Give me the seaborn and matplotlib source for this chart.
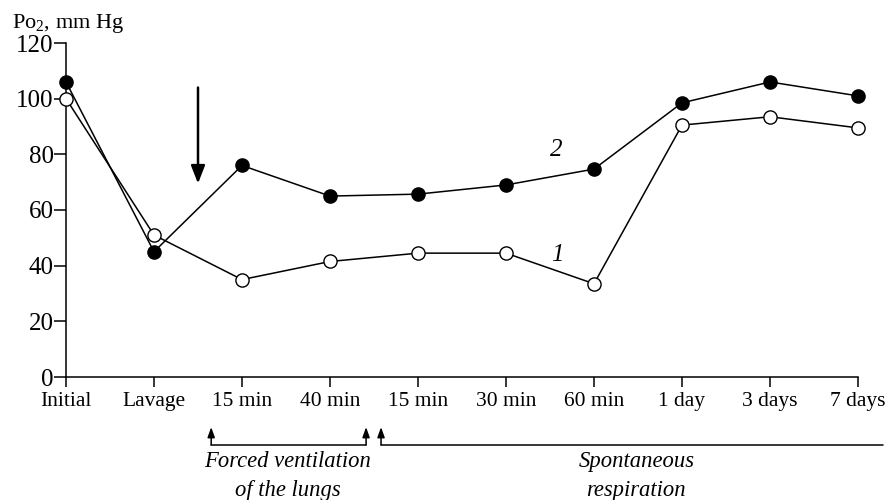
import matplotlib
matplotlib.use("Agg")
import matplotlib.pyplot as plt
import seaborn as sns
import pandas as pd

categories = ["Initial", "Lavage", "15 min", "40 min", "15 min", "30 min",
              "60 min", "1 day", "3 days", "7 days"]
series1 = [100, 51, 35, 41.5, 44.5, 44.5, 33.5, 90.5, 93.5, 89.5]   # open circles
series2 = [106, 45, 76, 65, 65.7, 69, 74.7, 98.5, 106, 101]        # filled circles
yticks = [0, 20, 40, 60, 80, 100, 120]

sns.set_theme(style="ticks")
plt.rcParams["font.family"] = ["Liberation Serif", "DejaVu Serif"]
plt.rcParams["mathtext.fontset"] = "custom"
plt.rcParams["mathtext.rm"] = "Liberation Serif"
plt.rcParams["mathtext.it"] = "Liberation Serif:italic"
plt.rcParams["text.color"] = "black"
plt.rcParams["xtick.color"] = "black"
plt.rcParams["ytick.color"] = "black"
plt.rcParams["xtick.labelcolor"] = "black"
plt.rcParams["ytick.labelcolor"] = "black"

fig = plt.figure(figsize=(8.85, 5), dpi=100)
ax = fig.add_axes([66/885, 1-377/500, (858-66)/885, (377-43)/500])

idx = list(range(len(categories)))
df = pd.DataFrame({"x": idx * 2,
                   "y": series2 + series1,
                   "s": ["2"] * len(idx) + ["1"] * len(idx)})

sns.lineplot(data=df[df.s == "2"], x="x", y="y", ax=ax, color="black", lw=1.1,
             marker="o", markersize=9.5, markerfacecolor="black",
             markeredgecolor="black", markeredgewidth=1.0, legend=False, zorder=3)
sns.lineplot(data=df[df.s == "1"], x="x", y="y", ax=ax, color="black", lw=1.1,
             marker="o", markersize=9.5, markerfacecolor="white",
             markeredgecolor="black", markeredgewidth=1.0, legend=False, zorder=4)
for ln in ax.lines:
    ln.set_clip_on(False)

ax.set_xlim(0, 9)
ax.set_ylim(0, 120)
ax.set_xticks(idx)
ax.set_xticklabels(categories, fontsize=15.5, color="black")
ax.set_yticks(yticks)
ax.set_yticklabels([str(t) for t in yticks], fontsize=18, color="black")
ax.set_xlabel("")
ax.set_ylabel("")
for s in ["top", "right"]:
    ax.spines[s].set_visible(False)
for s in ["left", "bottom"]:
    ax.spines[s].set_linewidth(1.1)
    ax.spines[s].set_color("black")
ax.tick_params(axis="both", direction="out", length=7, width=1.1, color="black",
               labelcolor="black")
ax.tick_params(axis="y", length=9, pad=0)
ax.tick_params(axis="x", pad=4)

# y-axis title
fig.text(12/885, 1-28/500, r"Po$_2$, mm Hg", fontsize=16, ha="left",
         va="baseline", color="black")

# curve labels
ax.text(5.57, 81.5, "2", fontsize=18, style="italic", ha="center", va="center",
        color="black")
ax.text(5.58, 43.8, "1", fontsize=18, style="italic", ha="center", va="center",
        color="black")

# big downward arrow
ax.annotate("", xy=(1.5, 69.5), xytext=(1.5, 104),
            arrowprops=dict(arrowstyle="-|>,head_length=0.9,head_width=0.35",
                            lw=1.8, color="black", shrinkA=0, shrinkB=0))

# brackets below the axis
yb = -24.4
yt = -18.0
ap = dict(arrowstyle="-|>,head_length=0.5,head_width=0.18", lw=1.1,
          color="black", shrinkA=0, shrinkB=0)
for xa in (1.65, 3.41, 3.58):
    ax.annotate("", xy=(xa, yt), xytext=(xa, yb), arrowprops=ap,
                annotation_clip=False)
ax.plot([1.65, 3.41], [yb, yb], color="black", lw=1.1, clip_on=False)
ax.plot([3.58, 9.28], [yb, yb], color="black", lw=1.1, clip_on=False)

for x, y, t in [(2.52, -30.5, "Forced ventilation"), (2.52, -40.6, "of the lungs"),
                (6.48, -30.5, "Spontaneous"), (6.48, -40.6, "respiration")]:
    ax.text(x, y, t, fontsize=16.3, style="italic", ha="center", va="center",
            color="black")

fig.savefig("out.png", dpi=100)
